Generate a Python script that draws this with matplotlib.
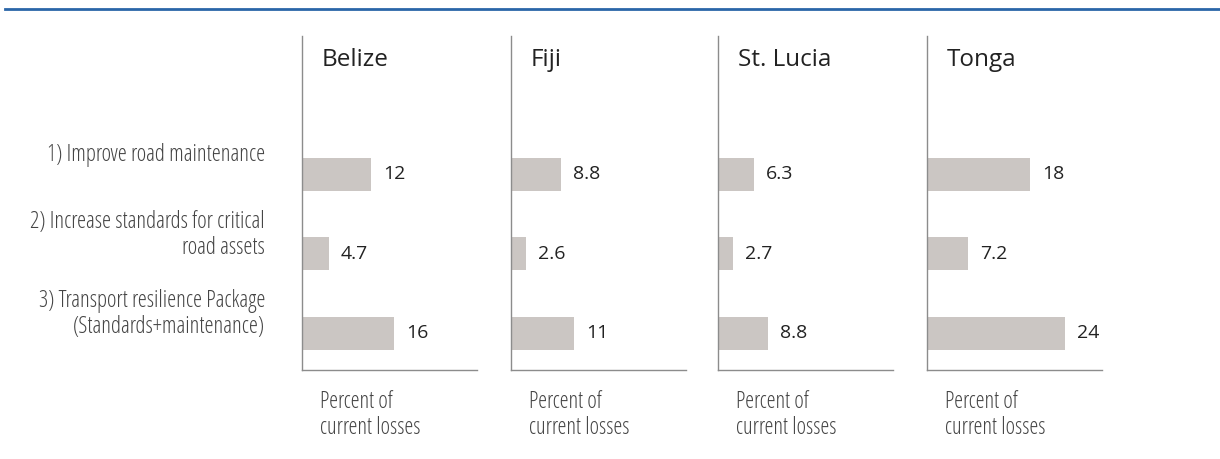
import matplotlib.pyplot as plt
from matplotlib import font_manager
import matplotlib.transforms as mtransforms

# Data
countries = ["Belize", "Fiji", "St. Lucia", "Tonga"]
measures = [
    "1) Improve road maintenance",
    "2) Increase standards for critical\nroad assets",
    "3) Transport resilience Package\n(Standards+maintenance)",
]
belize = [12, 4.7, 16]
fiji = [8.8, 2.6, 11]
st_lucia = [6.3, 2.7, 8.8]
tonga = [18, 7.2, 24]
values = [belize, fiji, st_lucia, tonga]
value_labels = [["12", "4.7", "16"], ["8.8", "2.6", "11"],
                ["6.3", "2.7", "8.8"], ["18", "7.2", "24"]]
unit_label = "Percent of\ncurrent losses"

plt.rcParams["font.family"] = ["Open Sans", "DejaVu Sans"]

# Look for a condensed / narrow face for the light labels
narrow_fp = None
cands = []
for f in font_manager.fontManager.ttflist:
    nm = f.name.lower()
    if f.style != "normal":
        continue
    if "narrow" in nm or "condensed" in nm or f.stretch in ("condensed", "semi-condensed"):
        w = f.weight if isinstance(f.weight, int) else 400
        if w > 400:
            continue
        rank = 0 if "open sans" in nm else 1 if "roboto" in nm else 2 if "liberation" in nm else 3
        cands.append((rank, -w if w < 400 else 0, f.fname, f.name))
cands.sort()
if cands:
    narrow_fp = cands[0][2]


def narrow_props(size):
    if narrow_fp:
        return font_manager.FontProperties(fname=narrow_fp, size=size)
    return font_manager.FontProperties(family="Open Sans", size=size * 0.8)


W, H = 1220, 459
fig = plt.figure(figsize=(W / 100, H / 100), dpi=100)

# Blue rule at the top
fig.add_artist(plt.Line2D([5 / W, 1], [1 - 9 / H, 1 - 9 / H],
                          color="#2a66a8", lw=2, transform=fig.transFigure))

bar_color = "#cbc6c3"
spine_color = "#8c8c8c"
lefts = [302, 511, 718, 927]
ax_w = 175
ax_top, ax_bot = 36, 370

for i, c in enumerate(countries):
    ax = fig.add_axes([lefts[i] / W, (H - ax_bot) / H, ax_w / W,
                       (ax_bot - ax_top) / H])
    ypos = range(len(measures))
    ax.barh(ypos, values[i], height=0.415, color=bar_color)
    ax.set_xlim(0, 30.5)
    ax.set_ylim(2.465, -1.742)
    for s in ["top", "right"]:
        ax.spines[s].set_visible(False)
    for s in ["left", "bottom"]:
        ax.spines[s].set_color(spine_color)
        ax.spines[s].set_linewidth(1)
    ax.set_xticks([])
    ax.set_yticks([])
    for y, v, lab in zip(ypos, values[i], value_labels[i]):
        ax.annotate(lab, (v, y), xytext=(8.6, 0), textcoords="offset points",
                    ha="left", va="center", fontsize=14, color="#222222")
    ax.text(20 / ax_w, (ax_bot - 60) / (ax_bot - ax_top), c,
            transform=ax.transAxes, ha="left", va="center",
            fontsize=17.5, color="#222222")
    ax.text(18 / ax_w, -20 / (ax_bot - ax_top), unit_label,
            transform=ax.transAxes, ha="left", va="top",
            fontproperties=narrow_props(16.3), color="#444444",
            linespacing=1.1)
    if i == 0:
        trans = mtransforms.blended_transform_factory(fig.transFigure, ax.transData)
        trans = trans + mtransforms.ScaledTranslation(0, 19 / 100, fig.dpi_scale_trans)
        for y, m in enumerate(measures):
            ax.text(265 / W, y, m, transform=trans, ha="right", va="center",
                    fontproperties=narrow_props(16.5), color="#444444",
                    linespacing=1.1, multialignment="right")

fig.savefig("out.png", dpi=100)
